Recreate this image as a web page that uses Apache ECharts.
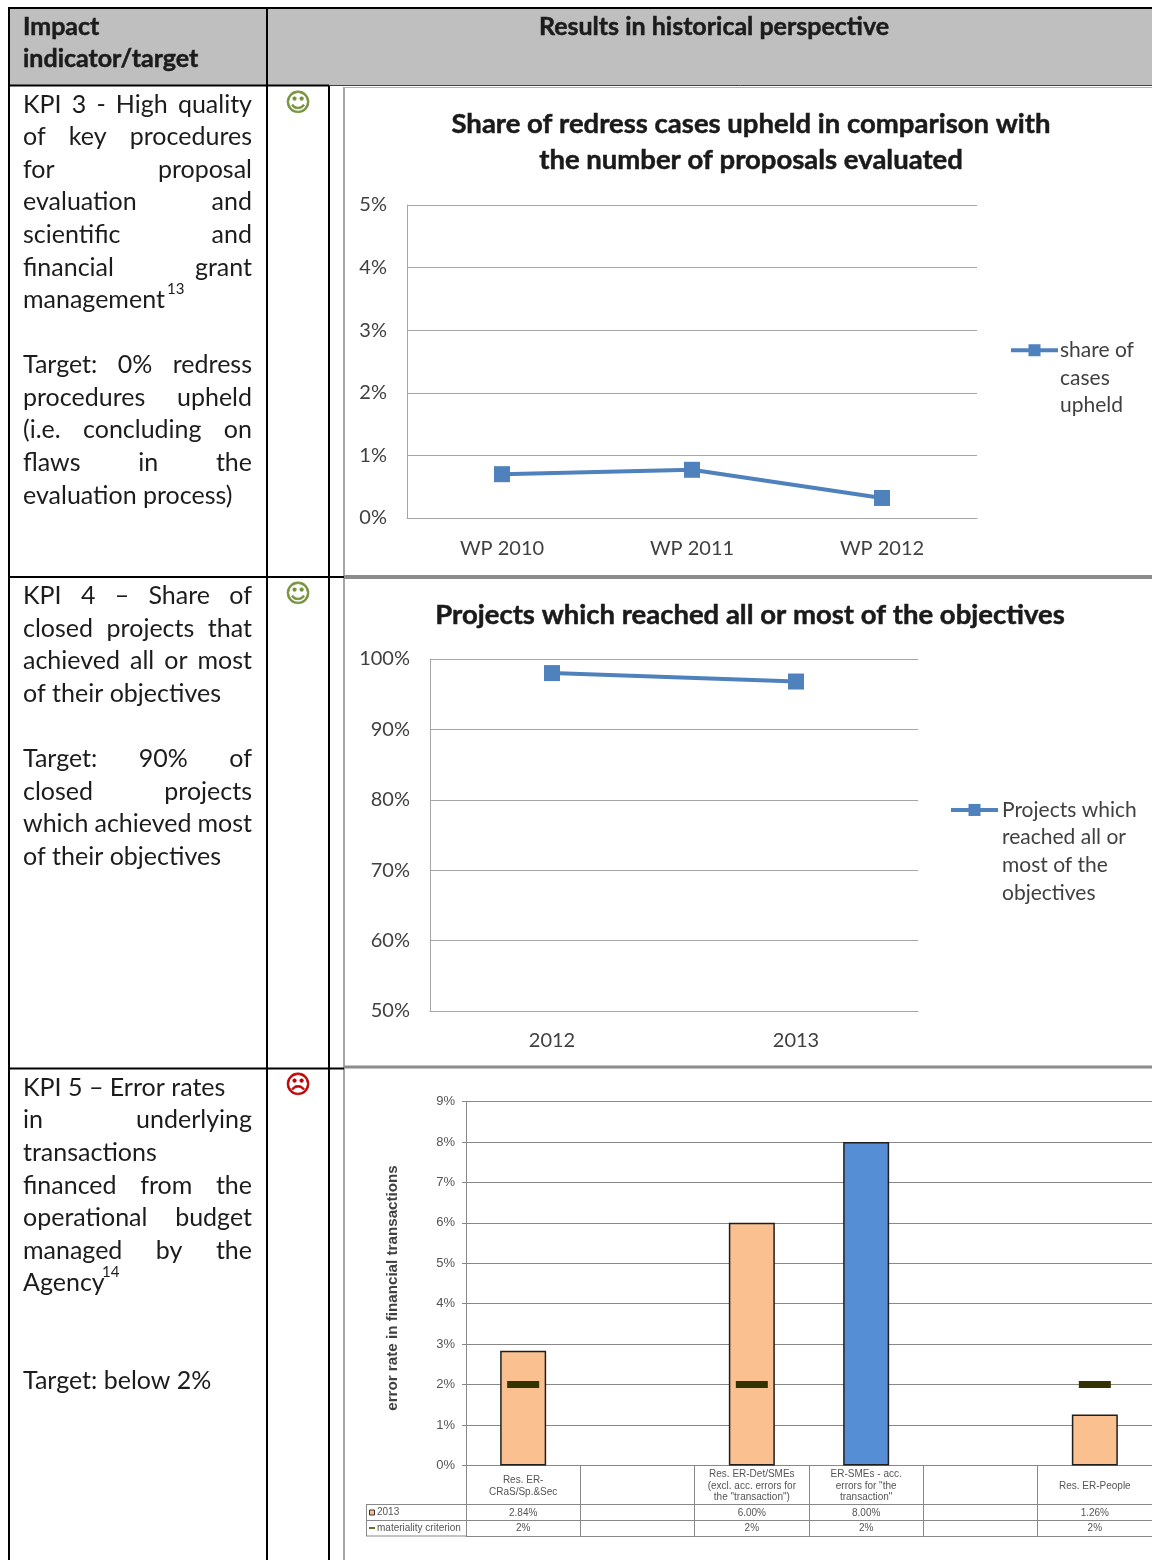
<!DOCTYPE html>
<html>
<head>
<meta charset="utf-8">
<style>html,body{margin:0;padding:0;background:#fff}#main{width:1152px;height:1560px}</style>
<script src="https://cdn.jsdelivr.net/npm/echarts@6/dist/echarts.min.js"></script>
</head>
<body>
<div id="main"></div>
<script>
// Chart data
const wpCategories = ['WP 2010', 'WP 2011', 'WP 2012'];
const shareUpheld = [0.70, 0.77, 0.32];
const objectiveYears = ['2012', '2013'];
const objectivesReached = [98, 96.8];
const errorCategories = ['Res. ER-\nCRaS/Sp.&Sec', '', 'Res. ER-Det/SMEs\n(excl. acc. errors for\nthe "transaction")', 'ER-SMEs - acc.\nerrors for "the\ntransaction"', '', 'Res. ER-People'];
const errorRate2013 = [2.84, null, 6.00, 8.00, null, 1.26];
const materiality = [2, null, 2, 2, null, 2];

// Left-hand column text: [text, row centre, justified]
const kpiLines = [
  ['KPI 3 - High quality', 104.5, true], ['of key procedures', 137, true], ['for proposal', 170, true],
  ['evaluation and', 202, true], ['scientific and', 235, true], ['financial grant', 268, true],
  ['management', 300, false], ['Target: 0% redress', 365, true], ['procedures upheld', 398, true],
  ['(i.e. concluding on', 430, true], ['flaws in the', 463, true], ['evaluation process)', 496, false],
  ['KPI 4 – Share of', 596, true], ['closed projects that', 629, true], ['achieved all or most', 661, true],
  ['of their objectives', 694, false], ['Target: 90% of', 759, true], ['closed projects', 792, true],
  ['which achieved most', 824, true], ['of their objectives', 857, false],
  ['KPI 5 – Error rates', 1088, false], ['in underlying', 1120, true], ['transactions', 1153, false],
  ['financed from the', 1186, true], ['operational budget', 1218, true], ['managed by the', 1251, true],
  ['Agency', 1283, false], ['Target: below 2%', 1381, false]
];

const BODY = 'Lato';
const ARIAL = '"Liberation Sans"';
const INK = '#1c1c1c';
const BLUE = '#4f81bd';
const ORANGE = '#fac090';
const BODY_SIZE = 25;

const chart = echarts.init(document.getElementById('main'), null, { renderer: 'canvas' });
const measure = document.createElement('canvas').getContext('2d');

function label(text, x, y, opts) {
  return { type: 'text', silent: true, style: Object.assign({
    text, x, y, fontFamily: BODY, fontSize: BODY_SIZE, fill: INK, align: 'left', verticalAlign: 'middle'
  }, opts || {}) };
}
function rule(x1, y1, x2, y2, stroke, lineWidth) {
  return { type: 'line', silent: true, shape: { x1, y1, x2, y2 }, style: { stroke, lineWidth } };
}
const heavy = { fontWeight: 'bold', stroke: INK, lineWidth: 0.5 };
function face(glyph, y, color) {
  return label(glyph, 298, y, { align: 'center', fontFamily: '"DejaVu Sans"', fontSize: 25, fill: color, stroke: color, lineWidth: 0.7 });
}

// Paragraph lines spread across the cell width, as in a justified table cell
function kpiText() {
  const out = [];
  const left = 23, right = 252;
  measure.font = BODY_SIZE + 'px ' + BODY;
  kpiLines.forEach(([text, y, justified]) => {
    const words = text.split(' ');
    if (!justified || words.length < 2) { out.push(label(text, left, y)); return; }
    const total = words.reduce((s, w) => s + measure.measureText(w).width, 0);
    const gap = (right - left - total) / (words.length - 1);
    let x = left;
    words.forEach(w => { out.push(label(w, x, y)); x += measure.measureText(w).width + gap; });
  });
  return out;
}

const tableFrame = [
  { type: 'rect', silent: true, shape: { x: 9, y: 8, width: 1143, height: 77 }, style: { fill: '#bfbfbf' } },
  rule(8, 8, 1152, 8, '#000', 2),
  rule(9, 8, 9, 1560, '#000', 2),
  rule(267, 8, 267, 1560, '#000', 2),
  rule(329, 86, 329, 1560, '#000', 2),
  rule(9, 85.5, 329, 85.5, '#000', 2),
  rule(329, 85.5, 1152, 85.5, '#404040', 1),
  rule(344, 87, 344, 1560, '#a6a6a6', 2),
  rule(344, 87.5, 1152, 87.5, '#b0b0b0', 1),
  rule(344, 577, 1152, 577, '#8c8c8c', 4),
  rule(344, 1067, 1152, 1067, '#8c8c8c', 3),
  rule(9, 577, 344, 577, '#000', 2),
  rule(9, 1068.5, 344, 1068.5, '#000', 2),
  label('Impact', 23, 27, heavy),
  label('indicator/target', 23, 59, heavy),
  label('Results in historical perspective', 714, 27, Object.assign({ align: 'center' }, heavy)),
  label('13', 167, 289, { fontSize: 15 }),
  label('14', 102, 1272, { fontSize: 15 }),
  face('\u263A', 104, '#76923c'),
  face('\u263A', 595.5, '#76923c'),
  face('\u2639', 1086.5, '#c00000')
];

// Key column of the data table under the error-rate chart
const dataTableKey = [
  rule(366, 1504.5, 1152, 1504.5, '#888', 1),
  rule(366, 1520.5, 466, 1520.5, '#888', 1),
  rule(366, 1536, 466, 1536, '#888', 1),
  rule(366.5, 1504.5, 366.5, 1536, '#888', 1),
  { type: 'rect', silent: true, shape: { x: 369.5, y: 1510, width: 5, height: 5 }, style: { fill: ORANGE, stroke: '#333', lineWidth: 1 } },
  rule(369, 1528, 375, 1528, '#6b6b2a', 2),
  label('2013', 377, 1512.5, { fontFamily: ARIAL, fontSize: 10, fill: '#555' }),
  label('materiality criterion', 377, 1528, { fontFamily: ARIAL, fontSize: 10, fill: '#555' })
];

const lineAxisLabel = { color: '#404040', fontFamily: BODY, fontSize: 20 };
const softLine = { lineStyle: { color: '#a6a6a6', width: 1 } };
const tableLine = { lineStyle: { color: '#888', width: 1 } };
const titleStyle = { fontFamily: BODY, fontWeight: 'bold', fontSize: 27.5, lineHeight: 36, color: '#1a1a1a', textBorderColor: '#1a1a1a', textBorderWidth: 0.5 };

function tableRowAxis(gridIndex, values, height, margin) {
  return {
    type: 'category', gridIndex, data: values, boundaryGap: true, position: 'bottom',
    axisLine: Object.assign({ show: true }, tableLine),
    axisTick: Object.assign({ show: true, inside: true, length: height, alignWithLabel: false, interval: 0 }, tableLine),
    axisLabel: { show: true, inside: true, interval: 0, hideOverlap: false, color: '#555', fontFamily: ARIAL, fontSize: 10, margin }
  };
}
function legendFor(name, left, top, textPad, formatter) {
  return { data: [name], left, top, orient: 'vertical', itemWidth: 47, itemHeight: 15, symbolSize: 15, padding: 0, selectedMode: false,
    lineStyle: { width: 4 }, formatter,
    textStyle: { fontFamily: BODY, fontSize: 21, lineHeight: 27.7, color: '#404040', padding: [0, 0, 0, textPad] } };
}

const option = {
  animation: false,
  backgroundColor: '#fff',
  title: [
    { text: 'Share of redress cases upheld in comparison with\nthe number of proposals evaluated', left: 751, top: 106, padding: 0, textAlign: 'center', textStyle: titleStyle },
    { text: 'Projects which reached all or most of the objectives', left: 750, top: 597, padding: 0, textAlign: 'center', textStyle: titleStyle }
  ],
  legend: [
    legendFor('share of cases upheld', 1009, 281, -3, () => '\n\nshare of\ncases\nupheld'),
    legendFor('Projects which reached all or most of the objectives', 949, 713, -1, () => '\n\n\nProjects which\nreached all or\nmost of the\nobjectives')
  ],
  grid: [
    { left: 407, top: 205, width: 570, height: 313 },
    { left: 430, top: 659, width: 488, height: 352 },
    { left: 466, top: 1101.5, width: 686.4, height: 364 },
    { left: 466, top: 1504.5, width: 686.4, height: 16 },
    { left: 466, top: 1520.5, width: 686.4, height: 15.5 }
  ],
  xAxis: [
    { type: 'category', gridIndex: 0, data: wpCategories, axisLine: Object.assign({ show: true }, softLine), axisTick: { show: false },
      axisLabel: Object.assign({ margin: 21 }, lineAxisLabel) },
    { type: 'category', gridIndex: 1, data: objectiveYears, axisLine: Object.assign({ show: true }, softLine), axisTick: { show: false },
      axisLabel: Object.assign({ margin: 20 }, lineAxisLabel) },
    { type: 'category', gridIndex: 2, data: errorCategories, axisLine: Object.assign({ show: true }, tableLine),
      axisTick: Object.assign({ show: true, length: 39, alignWithLabel: false, interval: 0 }, tableLine),
      axisLabel: { interval: 0, hideOverlap: false, margin: 20.5, verticalAlign: 'middle', color: '#555', fontFamily: ARIAL, fontSize: 10, lineHeight: 11.7 } },
    tableRowAxis(3, errorRate2013.map(v => v === null ? '' : v.toFixed(2) + '%'), 16, 2),
    tableRowAxis(4, materiality.map(v => v === null ? '' : v + '%'), 15.5, 3)
  ],
  yAxis: [
    { type: 'value', gridIndex: 0, min: 0, max: 5, interval: 1, axisLine: Object.assign({ show: true }, softLine), axisTick: { show: false },
      splitLine: Object.assign({ show: true }, softLine), axisLabel: Object.assign({ margin: 20, padding: [3, 0, 0, 0], formatter: '{value}%' }, lineAxisLabel) },
    { type: 'value', gridIndex: 1, min: 50, max: 100, interval: 10, axisLine: Object.assign({ show: true }, softLine), axisTick: { show: false },
      splitLine: Object.assign({ show: true }, softLine), axisLabel: Object.assign({ margin: 20, padding: [3, 0, 0, 0], formatter: '{value}%' }, lineAxisLabel) },
    { type: 'value', gridIndex: 2, min: 0, max: 9, interval: 1, axisLine: Object.assign({ show: true }, tableLine),
      axisTick: Object.assign({ show: true, length: 4 }, tableLine), splitLine: Object.assign({ show: true }, tableLine),
      axisLabel: { color: '#555', fontFamily: ARIAL, fontSize: 13, margin: 11, formatter: '{value}%' },
      name: 'error rate in financial transactions', nameLocation: 'middle', nameGap: 66, nameRotate: 90,
      nameTextStyle: { color: '#404040', fontFamily: ARIAL, fontSize: 15.2, fontWeight: 'bold', padding: [0, 9, 0, 0] } },
    { type: 'value', gridIndex: 3, show: false },
    { type: 'value', gridIndex: 4, show: false }
  ],
  series: [
    { name: 'share of cases upheld', type: 'line', xAxisIndex: 0, yAxisIndex: 0, data: shareUpheld, symbol: 'rect', symbolSize: 16,
      itemStyle: { color: BLUE }, lineStyle: { color: BLUE, width: 4 } },
    { name: 'Projects which reached all or most of the objectives', type: 'line', xAxisIndex: 1, yAxisIndex: 1, data: objectivesReached, symbol: 'rect', symbolSize: 16,
      itemStyle: { color: BLUE }, lineStyle: { color: BLUE, width: 4 } },
    { name: '2013', type: 'bar', xAxisIndex: 2, yAxisIndex: 2, barWidth: 46,
      data: errorRate2013.map((v, i) => i === 3 ? { value: v, itemStyle: { color: '#558ed5' } } : v),
      itemStyle: { color: ORANGE, borderColor: '#1f1f1f', borderWidth: 1.5 } },
    // The marker for the blue bar stays in the table row but is not drawn over the bar
    { name: 'materiality criterion', type: 'line', xAxisIndex: 2, yAxisIndex: 2,
      data: materiality.map((v, i) => i === 3 ? { value: v, itemStyle: { opacity: 0 } } : v),
      symbol: 'rect', symbolSize: [32, 7], itemStyle: { color: '#333300' }, lineStyle: { width: 0, opacity: 0 }, z: 5 }
  ],
  graphic: { elements: tableFrame.concat(kpiText(), dataTableKey) }
};
chart.setOption(option);
</script>
</body>
</html>
